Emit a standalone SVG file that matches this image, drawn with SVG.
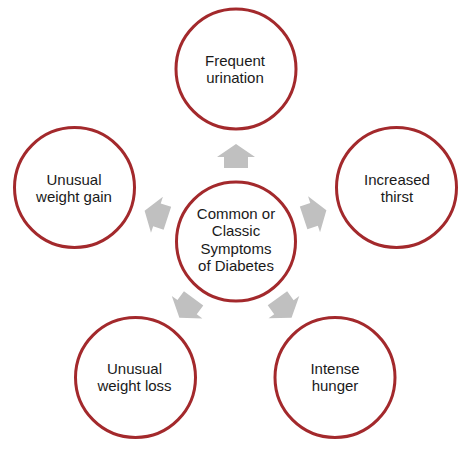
<svg xmlns="http://www.w3.org/2000/svg" width="474" height="450" viewBox="0 0 474 450">
  <defs>
    <style>
      .node circle { fill: #ffffff; stroke: #A3292C; stroke-width: 3; }
      .node text { font-family: "Liberation Sans", Arial, sans-serif; font-size: 15px; fill: #1a1a1a; text-anchor: middle; }
      .arrow { fill: #C0C0C0; }
    </style>
    <polygon id="arr" points="0,-12 19,1 12,1 12,12 -12,12 -12,1 -19,1"/>
  </defs>
  <rect width="474" height="450" fill="#ffffff"/>

  <g id="connectors">
    <use href="#arr" class="arrow" transform="translate(236,156)"/>
    <use href="#arr" class="arrow" transform="translate(315,214) rotate(71.6)"/>
    <use href="#arr" class="arrow" transform="translate(284.5,308) rotate(144)"/>
    <use href="#arr" class="arrow" transform="translate(186.5,308) rotate(-143.6)"/>
    <use href="#arr" class="arrow" transform="translate(156,214.5) rotate(-71.7)"/>
  </g>

  <g id="center" class="node">
    <circle cx="236" cy="241.5" r="59.5"/>
    <text x="236" y="218.5">Common or</text>
    <text x="236" y="236">Classic</text>
    <text x="236" y="253.5">Symptoms</text>
    <text x="236" y="271">of Diabetes</text>
  </g>

  <g id="frequent-urination" class="node">
    <circle cx="236" cy="69" r="60"/>
    <text x="235" y="66.3">Frequent</text>
    <text x="235" y="83.3">urination</text>
  </g>

  <g id="increased-thirst" class="node">
    <circle cx="396.5" cy="187.5" r="60"/>
    <text x="397" y="185">Increased</text>
    <text x="397" y="201.7">thirst</text>
  </g>

  <g id="intense-hunger" class="node">
    <circle cx="335" cy="377.5" r="60"/>
    <text x="335" y="374">Intense</text>
    <text x="335" y="390.7">hunger</text>
  </g>

  <g id="unusual-weight-loss" class="node">
    <circle cx="135.5" cy="377.5" r="60"/>
    <text x="134.5" y="374">Unusual</text>
    <text x="134.5" y="390.7">weight loss</text>
  </g>

  <g id="unusual-weight-gain" class="node">
    <circle cx="74.5" cy="187.5" r="60"/>
    <text x="74" y="185">Unusual</text>
    <text x="74" y="201.7">weight gain</text>
  </g>
</svg>
